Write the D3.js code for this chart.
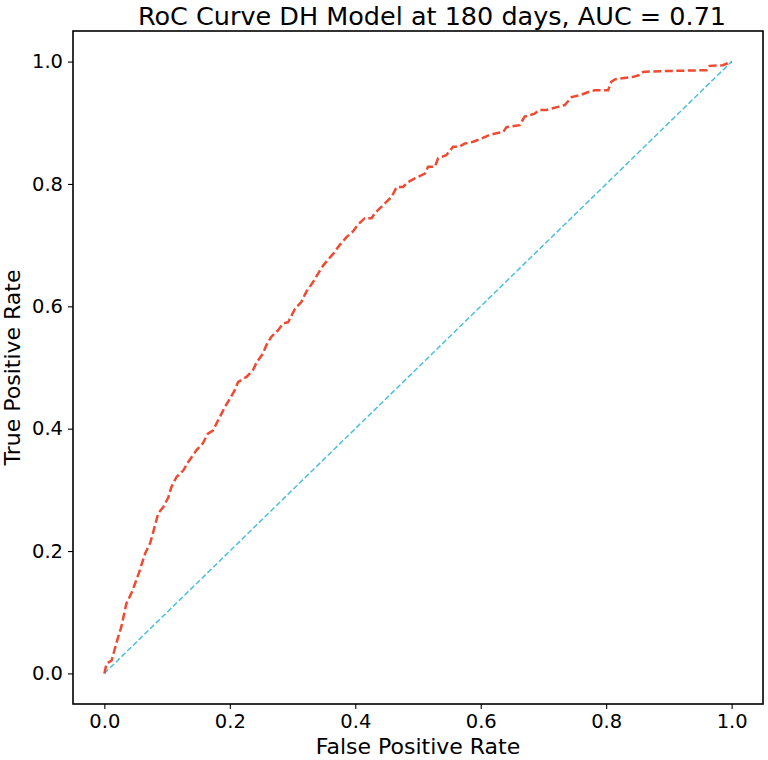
<!DOCTYPE html>
<html>
<head>
<meta charset="utf-8">
<script src="https://cdn.jsdelivr.net/npm/d3@7"></script>
<style>
  body { margin: 0; background: #fff; }
  text { font-family: "DejaVu Sans", sans-serif; fill: #000; }
</style>
</head>
<body>
<div id="chart"></div>
<script>
// ROC curve points
const fpr = [0, 0.0035, 0.0115, 0.019, 0.027, 0.035, 0.043, 0.049, 0.055, 0.065, 0.073, 0.080, 0.086, 0.094,
  0.102, 0.107, 0.115, 0.126, 0.134, 0.147, 0.157, 0.165, 0.173, 0.184, 0.192, 0.200, 0.208, 0.213, 0.227,
  0.237, 0.243, 0.253, 0.258, 0.266, 0.277, 0.285, 0.293, 0.304, 0.314, 0.322, 0.333, 0.341, 0.349, 0.358,
  0.365, 0.375, 0.386, 0.396, 0.404, 0.415, 0.426, 0.431, 0.439, 0.450, 0.458, 0.466, 0.476, 0.484, 0.495,
  0.511, 0.516, 0.527, 0.532, 0.545, 0.556, 0.566, 0.574, 0.588, 0.601, 0.614, 0.625, 0.636, 0.641, 0.662,
  0.670, 0.686, 0.694, 0.705, 0.723, 0.734, 0.745, 0.758, 0.774, 0.782, 0.803, 0.808, 0.814, 0.843, 0.853,
  0.859, 0.875, 0.960, 0.965, 0.986, 1.0];
const tpr = [0, 0.016, 0.021, 0.049, 0.076, 0.114, 0.131, 0.147, 0.164, 0.196, 0.213, 0.239, 0.262, 0.272,
  0.288, 0.305, 0.321, 0.332, 0.346, 0.365, 0.376, 0.392, 0.397, 0.419, 0.435, 0.449, 0.463, 0.476, 0.485,
  0.496, 0.509, 0.523, 0.536, 0.550, 0.561, 0.572, 0.574, 0.596, 0.607, 0.624, 0.640, 0.654, 0.667, 0.678,
  0.686, 0.700, 0.713, 0.722, 0.733, 0.744, 0.744, 0.752, 0.760, 0.771, 0.779, 0.795, 0.795, 0.803, 0.809,
  0.817, 0.828, 0.828, 0.842, 0.847, 0.861, 0.861, 0.866, 0.869, 0.874, 0.880, 0.883, 0.885, 0.893, 0.896,
  0.910, 0.915, 0.921, 0.921, 0.926, 0.929, 0.942, 0.945, 0.951, 0.953, 0.953, 0.967, 0.971, 0.975, 0.978,
  0.983, 0.984, 0.986, 0.993, 0.994, 1.0];
const chance = [0, 1];
const ticks = [0, 0.2, 0.4, 0.6, 0.8, 1.0];

const title = "RoC Curve DH Model at 180 days, AUC = 0.71";
const xLabel = "False Positive Rate";
const yLabel = "True Positive Rate";

const W = 768, H = 760;
const margin = { top: 31, right: 5, bottom: 56, left: 73 };
const width = W - margin.left - margin.right;
const height = H - margin.top - margin.bottom;

const svg = d3.select("#chart")
  .append("svg")
  .attr("width", W)
  .attr("height", H);

const g = svg.append("g")
  .attr("transform", `translate(${margin.left},${margin.top})`);

// matplotlib style 5% padding
const x = d3.scaleLinear().domain([-0.05, 1.05]).range([0, width]);
const y = d3.scaleLinear().domain([-0.05, 1.05]).range([height, 0]);

const xAxis = g.append("g")
  .attr("transform", `translate(0,${height})`)
  .call(d3.axisBottom(x).tickValues(ticks).tickFormat(d3.format(".1f")).tickSize(5).tickPadding(5));
const yAxis = g.append("g")
  .call(d3.axisLeft(y).tickValues(ticks).tickFormat(d3.format(".1f")).tickSize(5).tickPadding(5));

[xAxis, yAxis].forEach(a => {
  a.select(".domain").remove();
  a.selectAll(".tick line").attr("stroke", "#000").attr("stroke-width", 1.1);
  a.selectAll(".tick text").style("font-size", "19.5px").attr("fill", "#000");
});

const data = fpr.map((d, i) => [d, tpr[i]]);
const line = d3.line().x(d => x(d[0])).y(d => y(d[1]));

g.append("path")
  .datum(chance.map(d => [d, d]))
  .attr("d", line)
  .attr("fill", "none")
  .attr("stroke", "#4bbfdb")
  .attr("stroke-width", 1.5)
  .attr("stroke-dasharray", "5.5,2.5");

g.append("path")
  .datum(data)
  .attr("d", line)
  .attr("fill", "none")
  .attr("stroke", "#ef4a32")
  .attr("stroke-width", 2.5)
  .attr("stroke-dasharray", "8,3.5");

// frame
g.append("rect")
  .attr("width", width)
  .attr("height", height)
  .attr("fill", "none")
  .attr("stroke", "#000")
  .attr("stroke-width", 1.6);

svg.append("text")
  .attr("x", 432)
  .attr("y", 25)
  .attr("text-anchor", "middle")
  .style("font-size", "25.5px")
  .text(title);

svg.append("text")
  .attr("x", margin.left + width / 2)
  .attr("y", 754)
  .attr("text-anchor", "middle")
  .style("font-size", "22px")
  .text(xLabel);

svg.append("text")
  .attr("transform", `translate(20,${margin.top + height / 2}) rotate(-90)`)
  .attr("text-anchor", "middle")
  .style("font-size", "22px")
  .text(yLabel);
</script>
</body>
</html>
